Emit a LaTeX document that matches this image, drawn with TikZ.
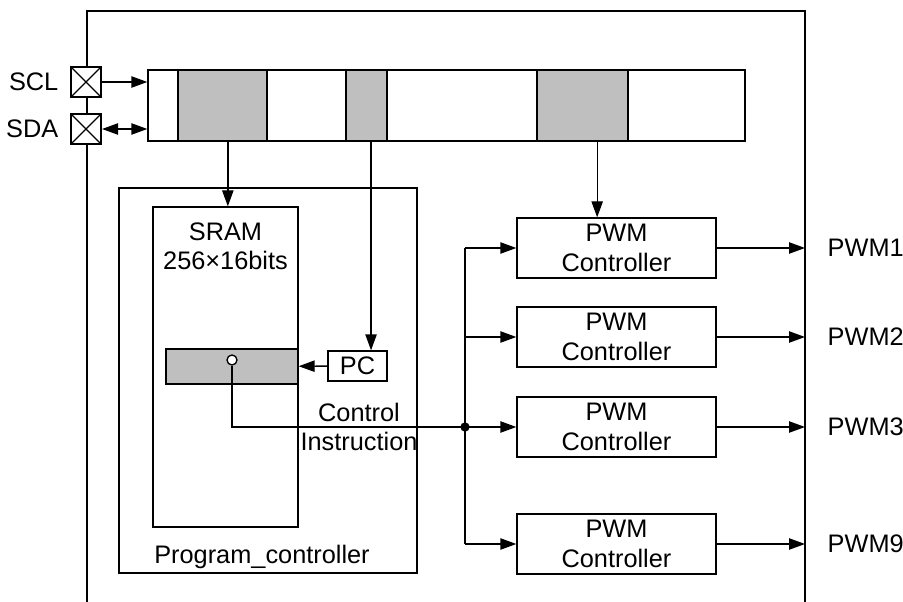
\documentclass[tikz,border=0pt]{standalone}
\usepackage{fontspec}
\setmainfont{Liberation Sans}
\usetikzlibrary{positioning, calc, arrows.meta}
\newcommand{\diagfont}{\fontsize{19}{22}\selectfont}
\tikzset{
	line/.style={line width=1pt},
	arrow/.style={line width=1pt, -{Triangle[length=12pt,width=8.5pt]}},
	dualarrow/.style={line width=1pt, {Triangle[length=12pt,width=8.5pt]}-{Triangle[length=12pt,width=8.5pt]}},
	block/.style={draw, line width=1pt, fill=white, inner sep=0pt, align=center},
	cell/.style={draw, line width=1pt, fill=gray!50, inner sep=0pt},
	pad/.style={draw, line width=1.6pt, fill=white, minimum size=22.5pt, inner sep=0pt,
		path picture={\draw[line width=1pt] (path picture bounding box.north west) -- (path picture bounding box.south east)
			(path picture bounding box.north east) -- (path picture bounding box.south west);}},
	pwmbox/.style={block, minimum width=149.25pt, minimum height=45pt},
}

\begin{document}
\begin{tikzpicture}[x=0.75pt, y=-0.75pt, font=\diagfont]
		\useasboundingbox (0,0) rectangle (903,602);
		% chip outline
		\draw[line] (87,602) |- (805,11) -- (805,602);
		\coordinate (edge) at (805,11);

		% I2C pads and register bus
		\node[block, minimum width=447.75pt, minimum height=53.25pt] (bus) at (446.5,105.5) {};
		\node[cell, minimum width=66.75pt, minimum height=53.25pt] (cellA) at (222.5,105.5) {};
		\node[cell, minimum width=30.75pt, minimum height=53.25pt] (cellB) at (366.5,105.5) {};
		\node[cell, minimum width=68.25pt, minimum height=53.25pt] (cellC) at (582.5,105.5) {};

		\node[pad] (sclpad) at (86,82) {};
		\node[pad] (sdapad) at (86,129) {};
		\node[anchor=east] (scl) at (63,82) {SCL};
		\node[anchor=east] (sda) at (63,129) {SDA};
		\draw[arrow] (sclpad) -- (sclpad -| bus.west);
		\draw[dualarrow] (sdapad) -- (sdapad -| bus.west);

		% program controller
		\node[block, minimum width=223.5pt, minimum height=288.75pt] (prog) at (268,380.5) {};
		\node (progtext) at (262,557) {Program\_controller};
		\node[block, minimum width=108.75pt, minimum height=240pt] (sram) at (225.5,367) {};
		\node[align=center] (sramtext) at (225.5,246) {SRAM\\256×16bits};
		\node[cell, minimum width=99pt, minimum height=26.25pt] (instr) at (232,366.5) {};
		\node[block, minimum width=44.25pt, minimum height=22.5pt] (pc) at (357.5,366) {PC};
		\node[circle, draw, line width=1pt, fill=white, minimum size=7.5pt, inner sep=0pt] (tap) at (232,360) {};
		\node[align=center] (ctrl) at (359,427) {Control\\Instruction};

		\draw[arrow] ([xshift=4pt]cellA.south) -- ([xshift=4pt]cellA.south |- sram.north);
		\draw[arrow] ([xshift=3.4pt]cellB.south) -- ([xshift=3.4pt]cellB.south |- pc.north);
		\draw[arrow] (pc) -- (instr);

		% PWM controllers
		\node[pwmbox] (pwm1) at (616.5,248) {PWM\\Controller};
		\node[pwmbox] (pwm2) at (616.5,337) {PWM\\Controller};
		\node[pwmbox] (pwm3) at (616.5,427) {PWM\\Controller};
		\node[pwmbox] (pwm9) at (616.5,544) {PWM\\Controller};
		\draw[arrow] ([xshift=11pt]cellC.south) -- ([xshift=11pt]cellC.south |- pwm1.north);

		\coordinate (junc) at (465,427);
		\draw[line] (tap.south) |- (junc);
		\draw[line] (junc |- pwm1.west) -- (junc |- pwm9.west);
		\fill (junc) circle (3.5pt);
		\foreach \i in {1,2,3,9} {
			\draw[arrow] (junc |- pwm\i.west) -- (pwm\i.west);
			\draw[arrow] (pwm\i.east) -- (pwm\i.east -| edge);
			\node[anchor=west] (out\i) at ($(pwm\i.east -| edge)+(18,0)$) {PWM\i};
		}
	\end{tikzpicture}
\end{document}
